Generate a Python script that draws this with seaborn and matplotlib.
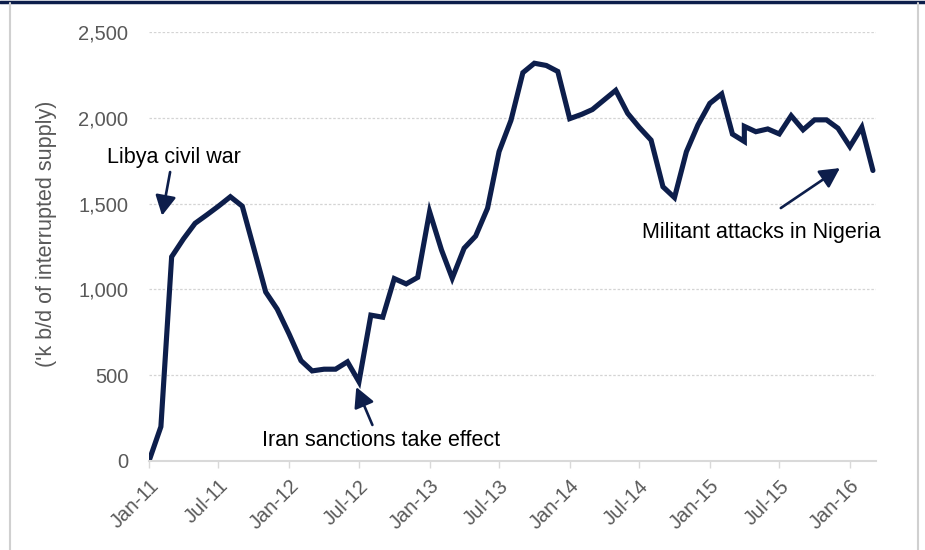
import matplotlib
matplotlib.use("Agg")
import matplotlib.pyplot as plt
from matplotlib.lines import Line2D
import seaborn as sns
import pandas as pd

# ---- data ----
months = [
    "2011-01", "2011-02", "2011-03", "2011-04", "2011-05", "2011-06",
    "2011-07", "2011-08", "2011-09", "2011-10", "2011-11", "2011-12",
    "2012-01", "2012-02", "2012-03", "2012-04", "2012-05", "2012-06",
    "2012-07", "2012-08", "2012-09", "2012-10", "2012-11", "2012-12",
    "2013-01", "2013-02", "2013-03", "2013-04", "2013-05", "2013-06",
    "2013-07", "2013-08", "2013-09", "2013-10", "2013-11", "2013-12",
    "2014-01", "2014-02", "2014-03", "2014-04", "2014-05", "2014-06",
    "2014-07", "2014-08", "2014-09", "2014-10", "2014-11", "2014-12",
    "2015-01", "2015-02", "2015-03", "2015-04", "2015-04", "2015-05",
    "2015-06", "2015-07", "2015-08", "2015-09", "2015-10", "2015-11",
    "2015-12", "2016-01", "2016-02", "2016-03",
]
supply = [
    0, 200, 1190, 1295, 1385, 1435,
    1485, 1540, 1485, 1240, 985, 885,
    740, 585, 525, 535, 535, 578,
    462, 850, 838, 1063, 1032, 1070,
    1453, 1230, 1065, 1240, 1311, 1473,
    1803, 1985, 2263, 2318, 2305, 2270,
    1995, 2020, 2048, 2105, 2160, 2026,
    1945, 1870, 1598, 1535, 1802, 1958,
    2084, 2139, 1905, 1862, 1950, 1919,
    1935, 1906, 2012, 1930, 1988, 1988,
    1939, 1832, 1945, 1693,
]
tick_dates = ["2011-01", "2011-07", "2012-01", "2012-07", "2013-01", "2013-07",
              "2014-01", "2014-07", "2015-01", "2015-07", "2016-01"]
tick_labels = ["Jan-11", "Jul-11", "Jan-12", "Jul-12", "Jan-13", "Jul-13",
               "Jan-14", "Jul-14", "Jan-15", "Jul-15", "Jan-16"]
y_ticks = [0, 500, 1000, 1500, 2000, 2500]
y_labels = ["0", "500", "1,000", "1,500", "2,000", "2,500"]

notes = [
    # text, text pos (date, value), arrow tail, arrow tip
    ("Libya civil war", ("2011-03-08", 1766), ("2011-02-25", 1684), ("2011-02-04", 1430)),
    ("Iran sanctions take effect", ("2012-08-27", 117), ("2012-08-05", 210), ("2012-06-24", 431)),
    ("Militant attacks in Nigeria", ("2015-05-15", 1329), ("2015-07-05", 1474), ("2015-12-06", 1707)),
]

df = pd.DataFrame({"date": pd.to_datetime(months), "supply": supply})

NAVY = "#0d1e4b"
GRAY_TXT = "#595959"
GRID = "#d4d4d4"

sns.set_theme(style="white")
plt.rcParams["font.family"] = ["Liberation Sans", "DejaVu Sans"]

fig = plt.figure(figsize=(9.25, 5.5), dpi=100)
ax = fig.add_axes([149 / 925, 89 / 550, (876 - 149) / 925, (461 - 32) / 550])

sns.lineplot(data=df, x="date", y="supply", ax=ax, color=NAVY, linewidth=3.7,
             estimator=None, sort=False, solid_joinstyle="miter")

ax.set_ylim(0, 2500)
ax.set_xlim(pd.Timestamp("2011-01-01"), pd.Timestamp("2016-03-09"))
ax.set_yticks(y_ticks)
ax.set_yticklabels(y_labels)
ax.set_xticks(pd.to_datetime(tick_dates))
ax.set_xticklabels(tick_labels, rotation=45, ha="right", rotation_mode="anchor")

ax.grid(axis="y", color=GRID, linestyle=(0, (2, 1.5)), linewidth=0.9)
ax.grid(axis="x", visible=False)
ax.set_axisbelow(True)
for s in ["top", "right", "left"]:
    ax.spines[s].set_visible(False)
ax.spines["bottom"].set_color("#d9d9d9")
ax.spines["bottom"].set_linewidth(1.5)

ax.tick_params(axis="y", length=0, pad=15, labelsize=14.5, labelcolor=GRAY_TXT)
ax.tick_params(axis="x", length=5, width=1, color="#d9d9d9", direction="out",
               pad=6, labelsize=14.5, labelcolor=GRAY_TXT, bottom=True)

ax.set_xlabel("")
ax.set_ylabel("('k b/d of interrupted supply)", fontsize=15.5, color=GRAY_TXT)
ax.yaxis.set_label_coords(-0.126, 0.53)

for text, tpos, tail, tip in notes:
    ax.text(pd.Timestamp(tpos[0]), tpos[1], text, fontsize=15.5, color="black",
            ha="center", va="center")
    ax.annotate("", xy=(pd.Timestamp(tip[0]), tip[1]),
                xytext=(pd.Timestamp(tail[0]), tail[1]),
                arrowprops=dict(arrowstyle="-|>,head_length=0.8,head_width=0.42",
                                mutation_scale=15, color=NAVY, lw=1.9,
                                shrinkA=0, shrinkB=0))

# frame decorations
fig.add_artist(Line2D([0, 1], [1 - 1.5 / 550, 1 - 1.5 / 550], color=NAVY, lw=2.5))
fig.add_artist(Line2D([10 / 925, 10 / 925], [0, 1 - 3 / 550], color="#d0d0d0", lw=1.5))
fig.add_artist(Line2D([918 / 925, 918 / 925], [0, 1 - 3 / 550], color="#d0d0d0", lw=1.5))

fig.savefig("out.png", dpi=100)
